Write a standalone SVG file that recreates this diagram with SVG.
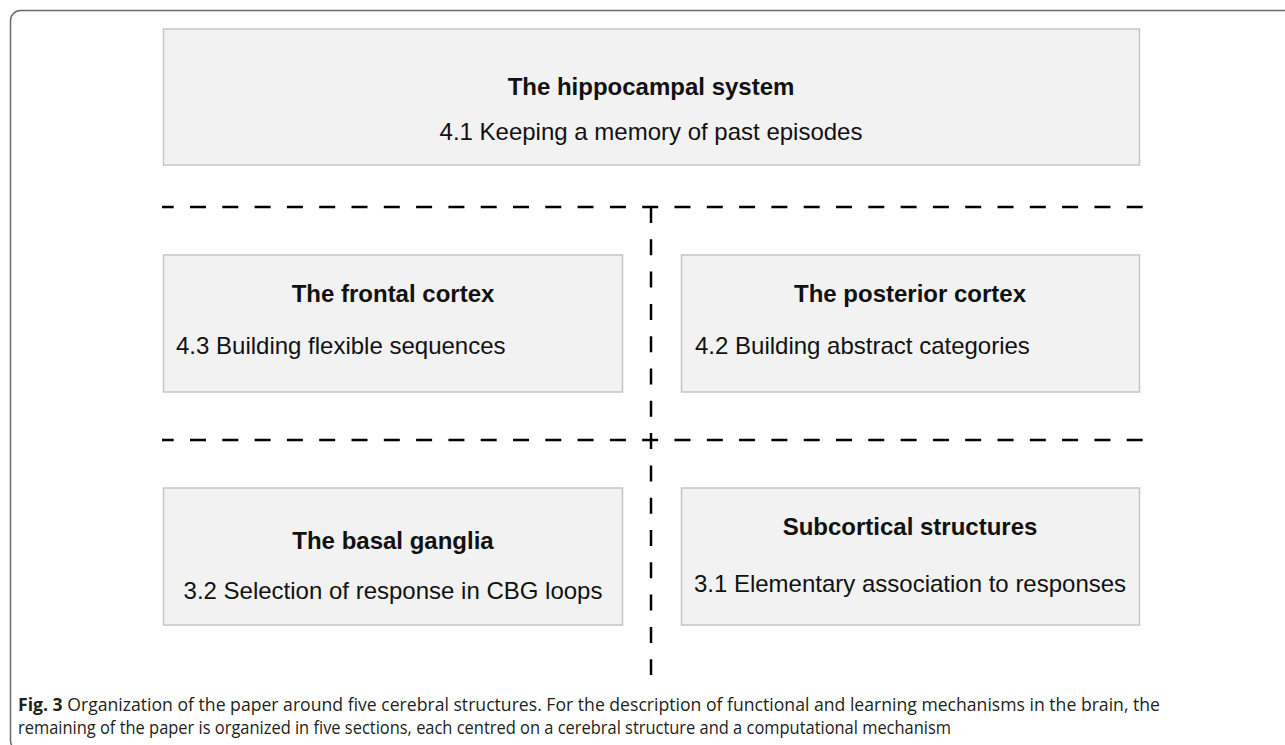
<svg xmlns="http://www.w3.org/2000/svg" width="1285" height="745" viewBox="0 0 1285 745">
<style>
.frame{fill:none;stroke:#6b6b6b;stroke-width:1.5}
.box{fill:#f2f2f2;stroke:#c6c6c6;stroke-width:1.5}
.t{font-family:"Liberation Sans",Arial,sans-serif;font-size:24px;fill:#111}
.b{font-weight:bold}
.c{text-anchor:middle}
.dash{stroke:#000;stroke-width:2.5;fill:none;stroke-dasharray:16 16.3}
.cap{font-family:"Open Sans","Noto Sans",sans-serif;font-size:18px;fill:#231f20}
</style>
<rect class="frame" x="10.5" y="10.5" width="1290" height="740" rx="10"/>
<g id="connectors">
<line class="dash" x1="162" y1="207" x2="1143" y2="207" stroke-dashoffset="4.3"/>
<line class="dash" x1="162" y1="440" x2="1143" y2="440" stroke-dashoffset="4.3"/>
<line class="dash" x1="651" y1="207" x2="651" y2="675"/>
</g>
<g id="hippocampal">
<rect class="box" x="163.5" y="29" width="976" height="136"/>
<text class="t b c" x="651" y="95">The hippocampal system</text>
<text class="t c" x="651" y="140">4.1 Keeping a memory of past episodes</text>
</g>
<g id="frontal">
<rect class="box" x="163.5" y="255" width="459" height="137"/>
<text class="t b c" x="393" y="302">The frontal cortex</text>
<text class="t" x="176" y="354">4.3 Building flexible sequences</text>
</g>
<g id="posterior">
<rect class="box" x="681.5" y="255" width="458" height="137"/>
<text class="t b c" x="910" y="302">The posterior cortex</text>
<text class="t" x="695" y="354">4.2 Building abstract categories</text>
</g>
<g id="basal">
<rect class="box" x="163.5" y="488" width="459" height="137"/>
<text class="t b c" x="393" y="549">The basal ganglia</text>
<text class="t c" x="393" y="599">3.2 Selection of response in CBG loops</text>
</g>
<g id="subcortical">
<rect class="box" x="681.5" y="488" width="458" height="137"/>
<text class="t b c" x="910" y="535">Subcortical structures</text>
<text class="t c" x="910" y="592">3.1 Elementary association to responses</text>
</g>
<g id="caption">
<text class="cap" x="18" y="711" textLength="1142" lengthAdjust="spacingAndGlyphs"><tspan font-weight="bold">Fig. 3</tspan>  Organization of the paper around five cerebral structures. For the description of functional and learning mechanisms in the brain, the</text>
<text class="cap" x="18" y="734" textLength="933" lengthAdjust="spacingAndGlyphs">remaining of the paper is organized in five sections, each centred on a cerebral structure and a computational mechanism</text>
</g>
</svg>
